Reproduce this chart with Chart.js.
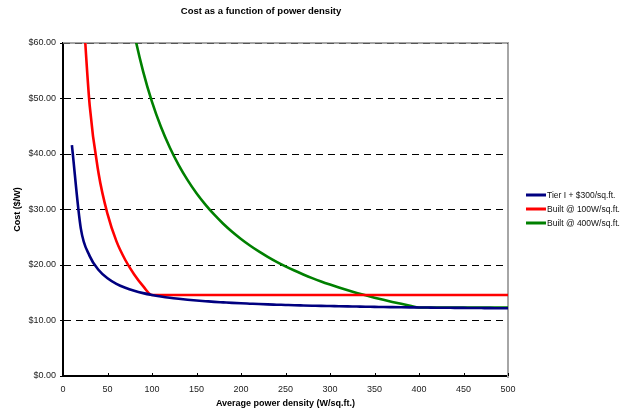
<!DOCTYPE html>
<html>
<head>
<meta charset="utf-8">
<script src="https://cdn.jsdelivr.net/npm/chart.js@4.4.1/dist/chart.umd.min.js"></script>
<style>
  html, body { margin: 0; padding: 0; background: #fff; }
  #wrap { width: 636px; height: 412px; }
</style>
</head>
<body>
<div id="wrap"><canvas id="chart" width="636" height="412"></canvas></div>
<script>
const density = [10, 20, 30, 40, 50, 60, 70, 80, 90, 100,
  110, 120, 130, 140, 150, 160, 170, 180, 190, 200,
  210, 220, 230, 240, 250, 260, 270, 280, 290, 300,
  310, 320, 330, 340, 350, 360, 370, 380, 390, 400,
  410, 420, 430, 440, 450, 460, 470, 480, 490, 500];

const tierCost = [41.60, 26.60, 21.60, 19.10, 17.60, 16.60, 15.89, 15.35, 14.93, 14.60,
  14.33, 14.10, 13.91, 13.74, 13.60, 13.48, 13.36, 13.27, 13.18, 13.10,
  13.03, 12.96, 12.90, 12.85, 12.80, 12.75, 12.71, 12.67, 12.63, 12.60,
  12.57, 12.54, 12.51, 12.48, 12.46, 12.43, 12.41, 12.39, 12.37, 12.35,
  12.33, 12.31, 12.30, 12.28, 12.27, 12.25, 12.24, 12.23, 12.21, 12.20];

const built100X = [20, 30, 40, 50, 60, 70, 80, 90, 100, 500];
const built100Cost = [73.0, 48.7, 36.5, 29.2, 24.3, 20.9, 18.3, 16.2, 14.6, 14.6];

const built400X = [70, 80, 90, 100, 110, 120, 130, 140, 150, 160,
  170, 180, 190, 200, 210, 220, 230, 240, 250, 260,
  270, 280, 290, 300, 310, 320, 330, 340, 350, 360,
  370, 380, 390, 400, 500];
const built400Cost = [70.57, 61.75, 54.89, 49.40, 44.91, 41.17, 38.00, 35.29, 32.93, 30.88,
  29.06, 27.44, 26.00, 24.70, 23.52, 22.45, 21.48, 20.58, 19.76, 19.00,
  18.30, 17.64, 17.03, 16.47, 15.94, 15.44, 14.97, 14.53, 14.11, 13.72,
  13.35, 13.00, 12.67, 12.35, 12.35];

const seriesNames = ['Tier I + $300/sq.ft.', 'Built @ 100W/sq.ft.', 'Built @ 400W/sq.ft.'];
const seriesColors = ['#000080', '#ff0000', '#008000'];

const xTicks = [0, 50, 100, 150, 200, 250, 300, 350, 400, 450, 500];
const yTicks = [0, 10, 20, 30, 40, 50, 60];

const FONT = '"Liberation Sans", Arial, sans-serif';

function toPoints(xs, ys) {
  return xs.map((x, i) => ({ x: x, y: ys[i] }));
}

// frame, inward x ticks, title and legend
const decorations = {
  id: 'decorations',
  beforeDatasetsDraw(chart) {
    const { ctx, chartArea: a } = chart;
    ctx.save();
    ctx.strokeStyle = '#a6a6a6';
    ctx.lineWidth = 2;
    ctx.beginPath();
    ctx.moveTo(a.left, a.top);
    ctx.lineTo(a.right, a.top);
    ctx.lineTo(a.right, a.bottom + 2);
    ctx.stroke();
    // dashed line at the top value, over the frame
    ctx.strokeStyle = '#555';
    ctx.lineWidth = 1;
    ctx.setLineDash([7, 5]);
    ctx.beginPath();
    ctx.moveTo(a.left, a.top + 0.5);
    ctx.lineTo(a.right, a.top + 0.5);
    ctx.stroke();
    ctx.restore();
  },
  afterDraw(chart) {
    const { ctx, chartArea: a, scales } = chart;
    ctx.save();
    ctx.strokeStyle = '#000';
    ctx.lineWidth = 1;
    xTicks.forEach(v => {
      const px = Math.round(scales.x.getPixelForValue(v)) + 0.5;
      ctx.beginPath();
      ctx.moveTo(px, a.bottom);
      ctx.lineTo(px, a.bottom - 3);
      ctx.stroke();
    });

    ctx.fillStyle = '#000';
    ctx.font = 'bold 9.5px ' + FONT;
    ctx.textAlign = 'center';
    ctx.textBaseline = 'middle';
    ctx.fillText('Cost as a function of power density', 261, 11);

    ctx.font = '8.5px ' + FONT;
    ctx.textAlign = 'left';
    seriesNames.forEach((name, i) => {
      const y = 195 + i * 14;
      ctx.strokeStyle = seriesColors[i];
      ctx.lineWidth = 3;
      ctx.beginPath();
      ctx.moveTo(526, y);
      ctx.lineTo(546, y);
      ctx.stroke();
      ctx.fillStyle = '#111';
      ctx.fillText(name, 547, y + 0.5);
    });
    ctx.restore();
  }
};

new Chart(document.getElementById('chart'), {
  type: 'line',
  data: {
    datasets: [
      { label: seriesNames[0], data: toPoints(density, tierCost) },
      { label: seriesNames[1], data: toPoints(built100X, built100Cost) },
      { label: seriesNames[2], data: toPoints(built400X, built400Cost) }
    ].map((d, i) => Object.assign(d, {
      borderColor: seriesColors[i],
      backgroundColor: seriesColors[i],
      borderWidth: 2.6,
      pointRadius: 0,
      cubicInterpolationMode: 'monotone',
      fill: false
    }))
  },
  options: {
    responsive: false,
    animation: false,
    layout: { padding: { top: 43, right: 128, left: 0, bottom: 0 } },
    plugins: {
      legend: { display: false },
      title: { display: false },
      tooltip: { enabled: false }
    },
    scales: {
      x: {
        type: 'linear',
        min: 0,
        max: 500,
        afterBuildTicks: s => { s.ticks = xTicks.map(v => ({ value: v })); },
        afterFit: s => { s.height = 36; },
        grid: { display: true, drawOnChartArea: false, drawTicks: false },
        border: { display: true, color: '#000', width: 2 },
        ticks: { color: '#222', font: { family: FONT, size: 9 }, padding: 8, maxRotation: 0 },
        title: {
          display: true,
          text: 'Average power density (W/sq.ft.)',
          color: '#000',
          font: { family: FONT, size: 9, weight: 'bold' },
          padding: { top: 0, bottom: 3 }
        }
      },
      y: {
        min: 0,
        max: 60,
        afterBuildTicks: s => { s.ticks = yTicks.map(v => ({ value: v })); },
        afterFit: s => { s.width = 63; },
        grid: {
          color: c => (c.tick && c.tick.value > 0 && c.tick.value < 60) ? '#000' : 'rgba(0,0,0,0)',
          lineWidth: 1,
          tickColor: '#000',
          tickLength: 3
        },
        border: { display: true, color: '#000', width: 2, dash: [7, 5] },
        ticks: {
          color: '#222',
          font: { family: FONT, size: 9 },
          padding: 4,
          callback: v => '$' + v.toFixed(2)
        },
        title: {
          display: true,
          text: 'Cost ($/W)',
          color: '#000',
          font: { family: FONT, size: 9, weight: 'bold' },
          padding: { top: 12, bottom: 0 }
        }
      }
    }
  },
  plugins: [decorations]
});
</script>
</body>
</html>
